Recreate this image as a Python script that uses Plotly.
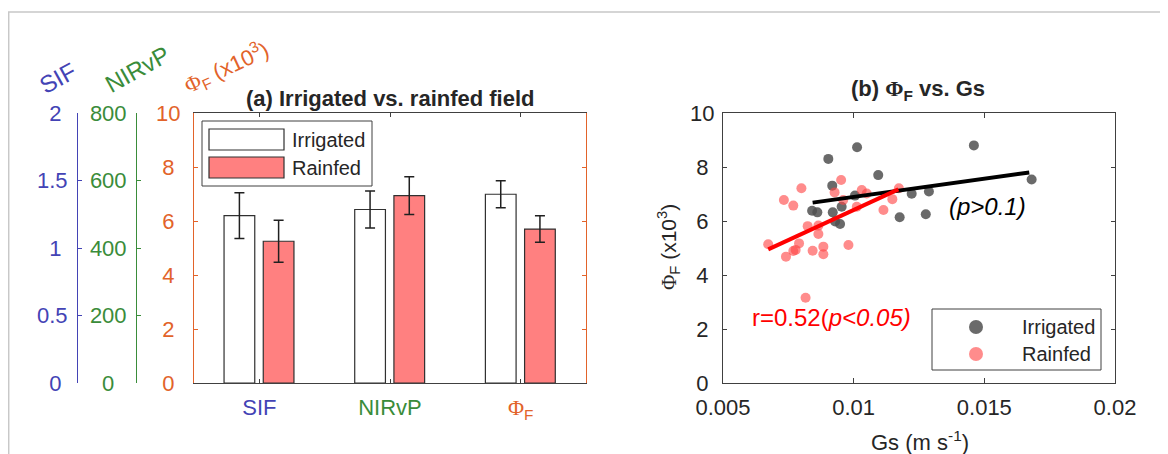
import plotly.graph_objects as go

# page body has an 8px margin; figure is laid out in page pixel coordinates
OFF = 8
W, H = 1160, 446

# ---------------- data: panel (a) ----------------
bar_categories = ["SIF", "NIRvP", "Φ<sub>F</sub>"]
category_colors = ["#4343B5", "#3A8C3A", "#E2632A"]
irrigated_mean = [1.24, 514, 6.99]
irrigated_err = [0.17, 55, 0.50]
rainfed_mean = [1.05, 555, 5.70]
rainfed_err = [0.155, 56, 0.49]
bar_axes = ["y3", "y2", "y"]

# axis ticks (values and labels) for the three stacked y axes of panel (a)
sif_ticks = [0, 0.5, 1, 1.5, 2]
sif_ticklabels = ["0", "0.5", "1", "1.5", "2"]
nirvp_ticks = [0, 200, 400, 600, 800]
nirvp_ticklabels = ["0", "200", "400", "600", "800"]
phi_ticks = [0, 2, 4, 6, 8, 10]
phi_ticklabels = ["0", "2", "4", "6", "8", "10"]

# ---------------- data: panel (b) ----------------
irr_gs = [0.00903, 0.01013, 0.01460, 0.01094, 0.01681, 0.00918, 0.01005, 0.01222,
          0.01288, 0.00841, 0.00861, 0.00954, 0.00920, 0.00929, 0.00948, 0.01176, 0.01276]
irr_phi = [8.30, 8.73, 8.80, 7.70, 7.54, 7.31, 6.94, 7.01,
           7.09, 6.38, 6.32, 6.53, 6.32, 5.98, 5.89, 6.14, 6.25]
rain_gs = [0.00673, 0.00733, 0.00769, 0.00800, 0.00741, 0.00769, 0.00778, 0.00791,
           0.00816, 0.00824, 0.00843, 0.00865, 0.00865, 0.00884, 0.00884, 0.00952,
           0.00927, 0.00960, 0.00980, 0.01012, 0.01031, 0.01050, 0.01114, 0.01148, 0.01173]
rain_phi = [5.14, 6.78, 6.57, 7.21, 4.68, 4.89, 4.93, 5.17,
            3.16, 5.81, 4.90, 5.52, 5.83, 5.05, 4.77, 7.52,
            7.06, 6.78, 5.11, 6.53, 7.15, 7.02, 6.41, 6.81, 7.21]
irr_fit_gs = [0.00843, 0.01672]
irr_fit_phi = [6.68, 7.80]
rain_fit_gs = [0.00673, 0.01171]
rain_fit_phi = [4.95, 7.17]
gs_ticks = [0.005, 0.01, 0.015, 0.02]
gs_ticklabels = ["0.005", "0.01", "0.015", "0.02"]

FONT = "Liberation Sans, Arial, Helvetica, sans-serif"
PHI = "<span style='font-family:Liberation Serif, Times New Roman, serif'>Φ</span>"
DARK = "#262626"
LINE = "#404040"
ORANGE = category_colors[2]
GREEN = category_colors[1]
BLUE = category_colors[0]
RED_FILL = "#FF8080"
GRAY_PT = "rgba(80,80,80,0.85)"
RED_PT = "rgba(255,70,70,0.62)"

# tick labels in the reference are centred on their column: pad short labels
FIG_SP = "\u2007"   # digit-wide space
PUN_SP = "\u2008"   # half-digit-wide space


def centre_pad(labels):
    widths = [sum(0.5 if ch == "." else 1.0 for ch in s) for s in labels]
    wmax = max(widths)
    out = []
    for s, w in zip(labels, widths):
        half = (wmax - w) / 2.0
        pad = FIG_SP * int(half) + (PUN_SP if half - int(half) >= 0.25 else "")
        out.append(s + pad)
    return out


def px(x):
    return (x - OFF) / W


def py(y):
    return 1 - (y - OFF) / H


fig = go.Figure()

# bars
for i, cat in enumerate(bar_categories):
    fig.add_trace(go.Bar(
        x=[i + 1], y=[irrigated_mean[i]], yaxis=bar_axes[i], xaxis="x",
        width=0.235, offset=-0.27,
        marker=dict(color="white", line=dict(color="#303030", width=1.2)),
        error_y=dict(type="data", array=[irrigated_err[i]], color="#202020",
                     thickness=1.5, width=5),
        showlegend=False, name="Irrigated"))
    fig.add_trace(go.Bar(
        x=[i + 1], y=[rainfed_mean[i]], yaxis=bar_axes[i], xaxis="x",
        width=0.235, offset=0.03,
        marker=dict(color=RED_FILL, line=dict(color="#303030", width=1.2)),
        error_y=dict(type="data", array=[rainfed_err[i]], color="#202020",
                     thickness=1.5, width=5),
        showlegend=False, name="Rainfed"))

# scatter
fig.add_trace(go.Scatter(x=irr_gs, y=irr_phi, xaxis="x2", yaxis="y4", mode="markers",
                         marker=dict(size=10, color=GRAY_PT),
                         showlegend=False, name="Irrigated"))
fig.add_trace(go.Scatter(x=rain_gs, y=rain_phi, xaxis="x2", yaxis="y4", mode="markers",
                         marker=dict(size=10, color=RED_PT),
                         showlegend=False, name="Rainfed"))
fig.add_trace(go.Scatter(x=irr_fit_gs, y=irr_fit_phi, xaxis="x2", yaxis="y4", mode="lines",
                         line=dict(color="black", width=4), showlegend=False))
fig.add_trace(go.Scatter(x=rain_fit_gs, y=rain_fit_phi, xaxis="x2", yaxis="y4", mode="lines",
                         line=dict(color="#FF0000", width=4), showlegend=False))

ydom = [py(383), py(113)]
TS = 22
tickfont = dict(family=FONT, size=TS, color=DARK)

common_y = dict(showgrid=False, zeroline=False, showline=True, ticks="inside",
                ticklen=4, automargin=False)

cat_text = ["SIF", "NIRvP", PHI + "<sub>F</sub>"]
ticktext_a = [f"<span style='color:{c}'>{t}</span>" for t, c in zip(cat_text, category_colors)]

fig.update_layout(
    width=W, height=H, margin=dict(l=0, r=0, t=0, b=0),
    paper_bgcolor="white", plot_bgcolor="white",
    barmode="overlay", font=dict(family=FONT, color=DARK),
    xaxis=dict(domain=[px(194), px(586)], range=[0.5, 3.5], tickvals=[1, 2, 3],
               ticktext=ticktext_a, showline=True, linecolor=LINE, mirror="ticks",
               ticks="inside", ticklen=4, tickcolor=LINE, showgrid=False, zeroline=False,
               anchor="y", tickfont=dict(family=FONT, size=TS), automargin=False,
               ticklabelstandoff=5),
    yaxis=dict(domain=ydom, range=[0, 10], tickvals=phi_ticks,
               ticktext=centre_pad(phi_ticklabels), linecolor=ORANGE,
               tickcolor=ORANGE, mirror="ticks", anchor="x",
               tickfont=dict(family=FONT, size=TS, color=ORANGE), ticklabelstandoff=8,
               **common_y),
    yaxis2=dict(overlaying="y", anchor="free", position=px(136), side="left",
                range=[0, 800], tickvals=nirvp_ticks, ticktext=centre_pad(nirvp_ticklabels),
                linecolor=GREEN, tickcolor=GREEN,
                tickfont=dict(family=FONT, size=TS, color=GREEN), ticklabelstandoff=5,
                **common_y),
    yaxis3=dict(overlaying="y", anchor="free", position=px(77), side="left",
                range=[0, 2], tickvals=sif_ticks, ticktext=centre_pad(sif_ticklabels),
                linecolor=BLUE, tickcolor=BLUE,
                tickfont=dict(family=FONT, size=TS, color=BLUE), ticklabelstandoff=5,
                **common_y),
    xaxis2=dict(domain=[px(723), px(1115)], range=[0.005, 0.02], tickvals=gs_ticks,
                ticktext=gs_ticklabels, showline=True, linecolor=LINE, mirror="ticks",
                ticks="inside", ticklen=5, tickcolor=LINE, showgrid=False, zeroline=False,
                anchor="y4", tickfont=tickfont, automargin=False, ticklabelstandoff=5),
    yaxis4=dict(domain=ydom, range=[0, 10], tickvals=phi_ticks,
                ticktext=centre_pad(phi_ticklabels), linecolor=LINE,
                tickcolor=LINE, mirror="ticks", anchor="x2", tickfont=tickfont,
                ticklabelstandoff=3, **common_y),
)

ann = []


def add_text(x, y, text, size=22, color=DARK, angle=0, xanchor="center", xref="paper",
             yref="paper"):
    ann.append(dict(x=x, y=y, xref=xref, yref=yref, text=text, showarrow=False,
                    font=dict(family=FONT, size=size, color=color), textangle=angle,
                    xanchor=xanchor, yanchor="middle"))


add_text(px(390), py(98), "<b>(a) Irrigated vs. rainfed field</b>", size=22)
add_text(px(918), py(90), "<b>(b) " + PHI + "<sub>F</sub> vs. Gs</b>", size=22)
add_text(px(57), py(78), "SIF", size=24, color=BLUE, angle=-29)
add_text(px(137), py(70), "NIRvP", size=24, color=GREEN, angle=-29)
add_text(px(226), py(67), PHI + "<sub>F</sub> (x10<sup>3</sup>)", size=22, color=ORANGE,
         angle=-25)
add_text(px(668), py(247), PHI + "<sub>F</sub> (x10<sup>3</sup>)", size=21, angle=-90)
add_text(px(920), py(441), "Gs (m s<sup>-1</sup>)", size=22)
add_text(0.01514, 6.52, "<i>(p&gt;0.1)</i>", size=24, color="black", xref="x2", yref="y4")
add_text(0.00603, 2.41, "r=0.52(<i>p&lt;0.05)</i>", size=24, color="#FF0000",
         xanchor="left", xref="x2", yref="y4")
# legends
add_text(px(290), py(140), "Irrigated", size=20, xanchor="left")
add_text(px(290), py(168), "Rainfed", size=20, xanchor="left")
add_text(px(1020), py(327), "Irrigated", size=20, xanchor="left")
add_text(px(1020), py(354), "Rainfed", size=20, xanchor="left")

shapes = []


def rect(x0, y0, x1, y1, line, fill="rgba(0,0,0,0)", width=1, kind="rect"):
    shapes.append(dict(type=kind, xref="paper", yref="paper", x0=px(x0), x1=px(x1),
                       y0=py(y1), y1=py(y0), line=dict(color=line, width=width),
                       fillcolor=fill, layer="above"))


rect(8.7, 12, 1164.5, 470, "#C8C8C8", width=1.5)
rect(202, 121, 372, 186, LINE, fill="white")
rect(209, 129, 284, 150, "#303030", fill="white", width=1.2)
rect(209, 157, 284, 178, "#303030", fill=RED_FILL, width=1.2)
rect(932, 309, 1101, 370, LINE, fill="white")
rect(969, 320, 983, 334, "rgba(0,0,0,0)", fill=GRAY_PT, width=0, kind="circle")
rect(969, 347, 983, 361, "rgba(0,0,0,0)", fill=RED_PT, width=0, kind="circle")

fig.update_layout(annotations=ann, shapes=shapes)

fig.write_html("out.html")
